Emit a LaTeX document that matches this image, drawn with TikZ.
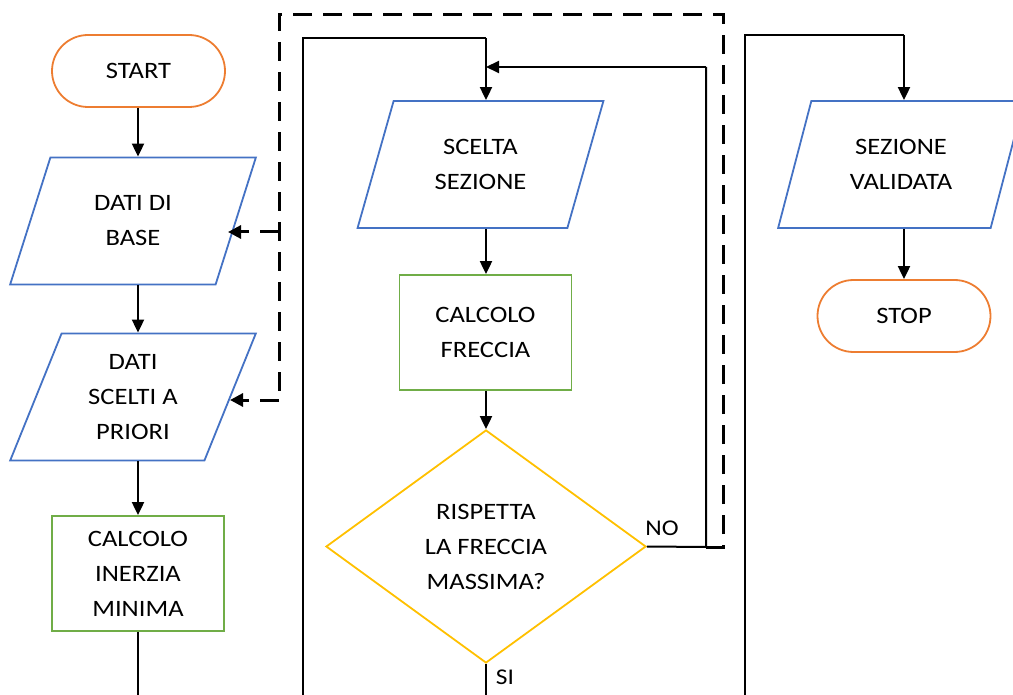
\documentclass[tikz,border=0pt]{standalone}
\usepackage{fontspec}
\setmainfont[FakeStretch=1.13]{Carlito}
\usetikzlibrary{shapes.geometric,arrows.meta}
\definecolor{cblue}{HTML}{4472C4}
\definecolor{cgreen}{HTML}{70AD47}
\definecolor{corange}{HTML}{ED7D31}
\definecolor{cgold}{HTML}{FFC000}
\begin{document}
\begin{tikzpicture}[x=1pt,y=-1pt,
  every node/.style={font=\fontsize{23.5}{35}\selectfont, align=center, inner sep=0pt},
  term/.style={draw=corange, line width=1.8pt, rounded corners=36pt, minimum width=173pt, minimum height=72pt},
  io/.style={draw=cblue, line width=1.8pt, trapezium, trapezium left angle=69.3, trapezium right angle=110.7,
     trapezium stretches=true, minimum width=246pt, minimum height=127pt},
  proc/.style={draw=cgreen, line width=1.8pt, minimum width=172pt, minimum height=115pt},
  dec/.style={draw=cgold, line width=1.8pt, diamond, aspect=1.373, minimum width=320pt, minimum height=233pt},
  conn/.style={draw=black, line width=2pt},
  arr/.style={conn, -{Triangle[length=13pt,width=12pt]}},
  dashline/.style={draw=black, line width=3pt, dash pattern=on 19pt off 11pt},
  darr/.style={dashline, -{Triangle[length=13pt,width=13pt]}},
  lbl/.style={font=\fontsize{22.5}{26}\selectfont}
]
\useasboundingbox (0,0) rectangle (1013,695);
\clip (0,0) rectangle (1013,695);

% nodes
\node[term] (start) at (138.5,71) {START};
\node[io] (base) at (133,221) {DATI DI\\BASE};
\node[io] (prior) at (133,397) {DATI\\SCELTI A\\PRIORI};
\node[proc] (inerzia) at (138,573.5) {CALCOLO\\INERZIA\\MINIMA};

\node[io] (scelta) at (480.5,164.5) {SCELTA\\SEZIONE};
\node[proc] (freccia) at (485.5,332.5) {CALCOLO\\FRECCIA};
\node[dec] (rispetta) at (486,546.5) {RISPETTA\\LA FRECCIA\\MASSIMA?};

\node[io] (valid) at (901,164.5) {SEZIONE\\VALIDATA};
\node[term] (stop) at (904,316) {STOP};

\node[lbl] (no) at (662,528) {NO};
\node[lbl] (si) at (505,677) {SI};

% coordinates
\coordinate (colA) at (138,0);
\coordinate (colB) at (486,0);
\coordinate (colC) at (904,0);
\coordinate (botA) at (138,700);
\coordinate (botB) at (486,700);
\coordinate (loopL) at (303,700);
\coordinate (loopLt) at (303,38);
\coordinate (loopBt) at (486,38);
\coordinate (noR) at (706,547);
\coordinate (noRt) at (706,67);
\coordinate (noEnd) at (486,67);
\coordinate (rightL) at (745,700);
\coordinate (rightLt) at (745,35);
\coordinate (rightCt) at (904,35);
\coordinate (dR) at (723,547);
\coordinate (dRt) at (723,15);
\coordinate (dLt) at (279,15);
\coordinate (dL1) at (279,232);
\coordinate (dL2) at (279,400);
\coordinate (baseE) at (228,232);
\coordinate (priorE) at (230,400);

% left column
\draw[arr] (start.south -| colA) -- (base.north -| colA);
\draw[arr] (base.south -| colA) -- (prior.north -| colA);
\draw[arr] (prior.south -| colA) -- (inerzia.north -| colA);
\draw[conn] (inerzia.south -| colA) -- (botA);

% middle column
\draw[conn] (loopL) -- (loopLt) -- (loopBt);
\draw[arr] (loopBt) -- (scelta.north -| colB);
\draw[arr] (scelta.south -| colB) -- (freccia.north -| colB);
\draw[arr] (freccia.south -| colB) -- (rispetta.north);
\draw[conn] (rispetta.south) -- (botB);
\draw[conn] (rispetta.east) -- (noR) -- (noRt);
\draw[arr] (noRt) -- (noEnd);

% right column
\draw[conn] (rightL) -- (rightLt) -- (rightCt);
\draw[arr] (rightCt) -- (valid.north -| colC);
\draw[arr] (valid.south -| colC) -- (stop.north);

% dashed feedback
\draw[dashline] (noR) -- (dR) -- (dRt) -- (dLt) -- (dL2);
\draw[darr] (dL1) -- (baseE);
\draw[darr] (dL2) -- (priorE);
\end{tikzpicture}
\end{document}
